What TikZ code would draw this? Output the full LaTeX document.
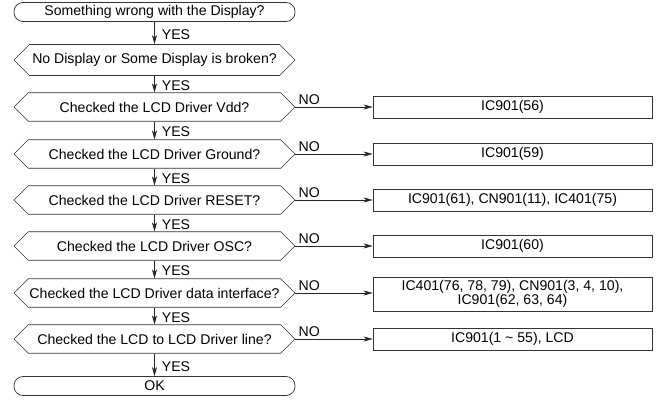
\documentclass[tikz,border=0pt]{standalone}
\usepackage{fontspec}
\setmainfont{Liberation Sans}
\usetikzlibrary{shapes.misc,arrows.meta}
\begin{document}
\begin{tikzpicture}[x=1pt,y=-1pt,
  every node/.style={font=\fontsize{14.1}{14.5}\selectfont, text=black},
  term/.style={draw=black!80, line width=0.7pt, rounded corners=9pt, minimum width=281pt, minimum height=19pt, inner sep=0pt},
  hex/.style={draw=black!80, line width=0.7pt, chamfered rectangle, chamfered rectangle xsep=10pt, chamfered rectangle ysep=9pt, minimum width=281pt, minimum height=18pt, inner sep=0pt},
  res/.style={draw=black!80, line width=0.7pt, minimum width=279pt, minimum height=22pt, inner sep=0pt, align=center},
  flow/.style={draw=black!85, line width=0.7pt, -{Stealth[length=9pt,width=5pt,inset=2.5pt]}},
  yes/.style={anchor=west, inner sep=0pt},
  no/.style={anchor=south west, inner sep=0pt}
]
\useasboundingbox (0,0) rectangle (659,409);
% main column
\node[term] (s1) at (154.5,12) {Something wrong with the Display?};
\node[hex]  (s2) at (154.5,60) {No Display or Some Display is broken?};
\node[hex]  (s3) at (154.5,107) {Checked the LCD Driver Vdd?};
\node[hex]  (s4) at (154.5,154) {Checked the LCD Driver Ground?};
\node[hex]  (s5) at (154.5,200) {Checked the LCD Driver RESET?};
\node[hex]  (s6) at (154.5,246) {Checked the LCD Driver OSC?};
\node[hex]  (s7) at (154.5,293) {Checked the LCD Driver data interface?};
\node[hex]  (s8) at (154.5,339) {Checked the LCD to LCD Driver line?};
\node[term] (s9) at (154.5,386) {OK};
% result boxes
\node[res] (r3) at (512.5,107) {IC901(56)};
\node[res] (r4) at (512.5,154) {IC901(59)};
\node[res] (r5) at (512.5,200) {IC901(61), CN901(11), IC401(75)};
\node[res] (r6) at (512.5,246) {IC901(60)};
\node[res, minimum height=34pt, font=\fontsize{14.1}{12.5}\selectfont] (r7) at (512.5,294) {IC401(76, 78, 79), CN901(3, 4, 10),\\IC901(62, 63, 64)};
\node[res] (r8) at (512.5,339) {IC901(1 \textasciitilde{} 55), LCD};
% YES arrows
\foreach \a/\b in {s1/s2,s2/s3,s3/s4,s4/s5,s5/s6,s6/s7,s7/s8,s8/s9}{
  \draw[flow] (\a.south) -- (\b.north) node[yes, pos=0.5, xshift=7pt, yshift=-1.5pt] {YES};
}
% NO arrows
\foreach \a/\b in {s3/r3,s4/r4,s5/r5,s6/r6,s8/r8}{
  \draw[flow] (\a.east) -- (\b.west) node[no, pos=0, xshift=3pt, yshift=2.5pt] {NO};
}
\draw[flow] (s7.east) -- (s7.east -| r7.west) node[no, pos=0, xshift=3pt, yshift=2.5pt] {NO};
\end{tikzpicture}
\end{document}
